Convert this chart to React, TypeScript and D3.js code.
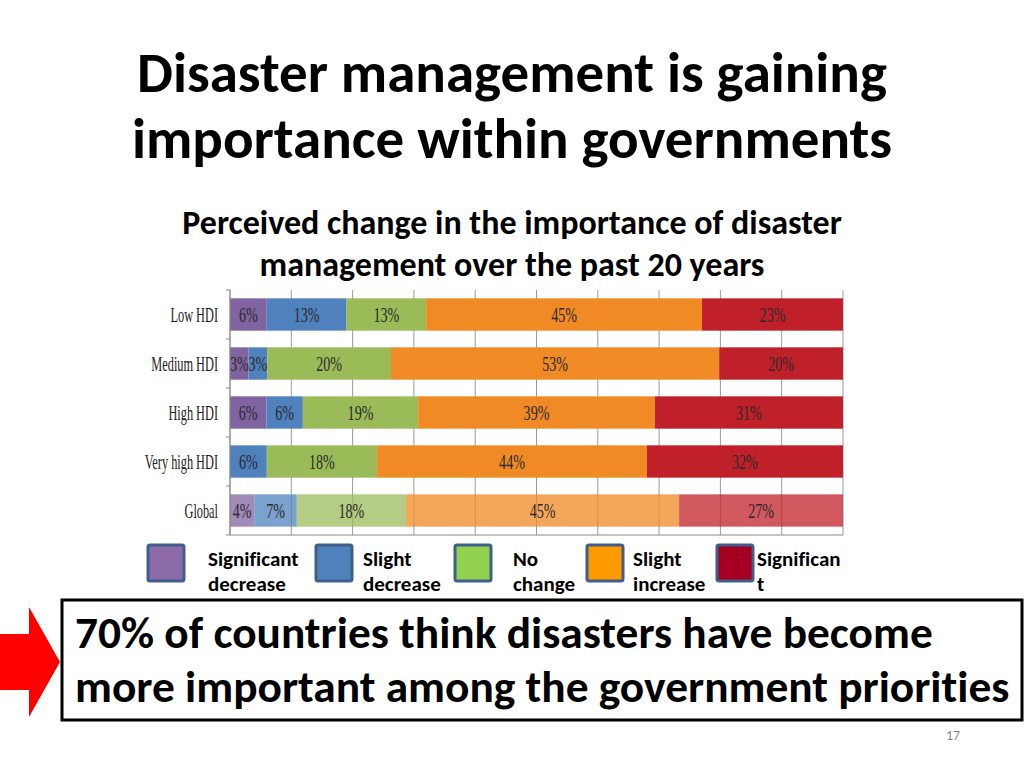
import React from "react";
import * as d3 from "d3";

const categories = ["Low HDI", "Medium HDI", "High HDI", "Very high HDI", "Global"];
const seriesNames = ["Significant decrease", "Slight decrease", "No change", "Slight increase", "Significant increase"];
const sigDecrease = [6, 3, 6, 0, 4];
const slightDecrease = [13, 3, 6, 6, 7];
const noChange = [13, 20, 19, 18, 18];
const slightIncrease = [45, 53, 39, 44, 45];
const sigIncrease = [23, 20, 31, 32, 27];
const tickValues = [0, 10, 20, 30, 40, 50, 60, 70, 80, 90, 100];

const barColors = ["#8064A2", "#4F81BD", "#9BBB59", "#F08A24", "#C0202A"];
const legendColors = ["#8C6BA8", "#4F81BD", "#92D050", "#FF9900", "#A50021"];
const legendLines = [
  ["Significant", "decrease"],
  ["Slight", "decrease"],
  ["No", "change"],
  ["Slight", "increase"],
  ["Significan", "t"],
];

const W = 1024;
const H = 768;
const plot = { left: 230, right: 843, top: 290, bottom: 535 };

export default function App() {
  const rows = categories.map((c, i) => ({
    cat: c,
    s0: sigDecrease[i],
    s1: slightDecrease[i],
    s2: noChange[i],
    s3: slightIncrease[i],
    s4: sigIncrease[i],
  }));
  const keys = ["s0", "s1", "s2", "s3", "s4"];
  const stack = d3.stack<any>().keys(keys).offset(d3.stackOffsetExpand);
  const series = stack(rows);

  const x = d3.scaleLinear().domain([0, 1]).range([plot.left, plot.right]);
  const xg = d3.scaleLinear().domain([0, 100]).range([plot.left, plot.right]);
  const y = d3.scaleBand<string>().domain(categories).range([plot.top, plot.bottom]).paddingInner(0.34).paddingOuter(0.17);

  const serif = "'Liberation Serif', 'DejaVu Serif', serif";
  const sans = "Carlito, 'Open Sans', 'Noto Sans', sans-serif";
  const legendX = [208, 363, 513, 633, 757];
  const noLig = { fontVariantLigatures: "none" as const };

  return (
    <svg width={W} height={H} style={{ position: "absolute", left: 0, top: 0 }} xmlns="http://www.w3.org/2000/svg">
      <rect width={W} height={H} fill="#fff" />
      {/* Title */}
      <g fontFamily={sans} fontWeight="bold" fill="#000" textAnchor="middle" style={noLig}>
        <text x={512} y={92} fontSize={57}>Disaster management is gaining</text>
        <text x={512} y={158} fontSize={57}>importance within governments</text>
      </g>
      <g fontFamily={sans} fontWeight="bold" fill="#000" textAnchor="middle" style={noLig}>
        <text x={512} y={234} fontSize={34}>Perceived change in the importance of disaster</text>
        <text x={512} y={276} fontSize={34}>management over the past 20 years</text>
      </g>

      {/* gridlines */}
      {tickValues.map((t) => (
        <line key={t} x1={xg(t)} x2={xg(t)} y1={plot.top} y2={plot.bottom} stroke="#9a9a9a" strokeWidth={1} />
      ))}
      {/* bars */}
      {series.map((s, si) => (
        <g key={si}>
          {s.map((d, di) => {
            const w = x(d[1]) - x(d[0]);
            if (w <= 0) return null;
            const isGlobal = categories[di] === "Global";
            return (
              <rect
                key={di}
                x={x(d[0])}
                y={y(categories[di])}
                width={w}
                height={y.bandwidth()}
                fill={barColors[si]}
                opacity={isGlobal ? 0.75 : 1}
              />
            );
          })}
        </g>
      ))}
      {/* bar labels */}
      {series.map((s, si) => (
        <g key={"l" + si}>
          {s.map((d, di) => {
            const raw = (rows[di] as any)[keys[si]];
            if (!raw) return null;
            const cx = (x(d[0]) + x(d[1])) / 2;
            const cy = (y(categories[di]) as number) + y.bandwidth() / 2 + 7;
            return (
              <text
                key={di}
                transform={`translate(${cx},${cy}) scale(0.64,1)`}
                textAnchor="middle"
                fontFamily={serif}
                fontSize={22}
                fill="#2a2a2a"
              >
                {raw}%
              </text>
            );
          })}
        </g>
      ))}
      {/* axes */}
      <line x1={plot.left} x2={plot.left} y1={plot.top} y2={plot.bottom} stroke="#8a8a8a" />
      <line x1={plot.left} x2={plot.right} y1={plot.bottom} y2={plot.bottom} stroke="#8a8a8a" />
      {d3.range(categories.length + 1).map((i) => {
        const yy = plot.top + i * y.step();
        return <line key={i} x1={plot.left - 4} x2={plot.left} y1={yy} y2={yy} stroke="#8a8a8a" />;
      })}
      {categories.map((c) => (
        <text
          key={c}
          transform={`translate(218,${(y(c) as number) + y.bandwidth() / 2 + 7}) scale(0.56,1)`}
          textAnchor="end"
          fontFamily={serif}
          fontSize={22}
          fill="#222"
        >
          {c}
        </text>
      ))}

      {/* legend */}
      {[148, 316, 455, 587, 717].map((lx, i) => (
        <g key={i}>
          <rect x={lx} y={545} width={36} height={36} rx={2} fill={legendColors[i]} stroke="#3F5F8A" strokeWidth={3} />
          <text fontFamily={sans} fontWeight="bold" fontSize={21} fill="#000" style={noLig}>
            <tspan x={legendX[i]} y={566}>{legendLines[i][0]}</tspan>
            <tspan x={legendX[i]} y={591}>{legendLines[i][1]}</tspan>
          </text>
        </g>
      ))}

      {/* red arrow */}
      <polygon points="0,634 29,634 29,607 60,662 29,717 29,690 0,690" fill="#FF0000" />
      {/* callout box */}
      <rect x={62} y={600} width={960} height={120} fill="#fff" stroke="#000" strokeWidth={3} />
      <g fontFamily={sans} fontWeight="bold" fontSize={45.4} fill="#000" style={noLig}>
        <text x={75} y={648}>70% of countries think disasters have become</text>
        <text x={75} y={702}>more important among the government priorities</text>
      </g>
      <text x={953} y={740} textAnchor="middle" fontFamily={sans} fontSize={14} fill="#888">17</text>
    </svg>
  );
}
